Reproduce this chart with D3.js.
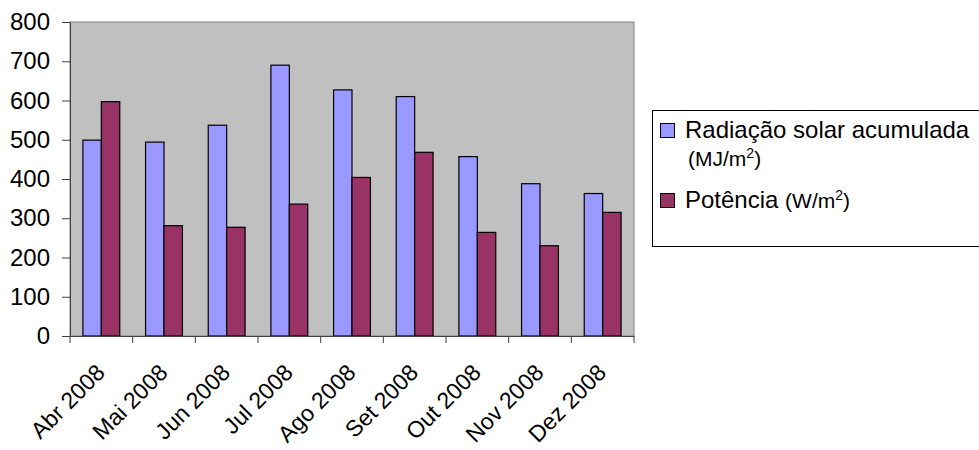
<!DOCTYPE html>
<html><head><meta charset="utf-8">
<script src="https://cdn.jsdelivr.net/npm/d3@7"></script>
<style>body{margin:0;background:#fff;}svg{display:block;font-family:"Liberation Sans",Arial,sans-serif;}</style>
</head><body><svg id="c" width="979" height="450"></svg>
<script>
const categories = ["Abr 2008","Mai 2008","Jun 2008","Jul 2008","Ago 2008","Set 2008","Out 2008","Nov 2008","Dez 2008"];
const radiacao = [499, 494, 537, 690, 627, 610, 457, 388, 363];
const potencia = [597, 281, 277, 336, 404, 468, 264, 230, 315];
const yTicks = [0,100,200,300,400,500,600,700,800];
const seriesNames = ["Radiação solar acumulada", "Potência"];
const seriesUnits = ["(MJ/m", "(W/m"];
const colors = ["#9999FF", "#993366"];

const svg = d3.select("#c");
const L = 70, R = 634, T = 22, B = 336;
const x = d3.scaleBand().domain(categories).range([L, R]).padding(0);
const y = d3.scaleLinear().domain([0, 800]).range([B, T]);
const bw = x.bandwidth() / 3.4;
const off = bw * 0.7;

svg.append("rect").attr("x", L).attr("y", T).attr("width", R - L).attr("height", B - T)
  .attr("fill", "#C0C0C0").attr("stroke", "#808080").attr("stroke-width", 1);

const series = [radiacao, potencia];
series.forEach((vals, si) => {
  svg.append("g").selectAll("rect").data(vals).join("rect")
    .attr("x", (d, i) => x(categories[i]) + off + si * bw)
    .attr("y", d => y(d))
    .attr("width", bw)
    .attr("height", d => B - y(d))
    .attr("fill", colors[si]).attr("stroke", "#000").attr("stroke-width", 1.2);
});

// y axis
const ya = svg.append("g").attr("transform", `translate(${L},0)`)
  .call(d3.axisLeft(y).tickValues(yTicks).tickSize(8).tickPadding(12));
ya.select(".domain").attr("stroke", "#404040");
ya.selectAll(".tick line").attr("stroke", "#404040");
ya.selectAll("text").attr("font-size", 24).attr("fill", "#000").attr("font-family", "Liberation Sans, Arial, sans-serif");

// x axis
const xa = svg.append("g").attr("transform", `translate(0,${B})`)
  .call(d3.axisBottom(x).tickSize(0).tickFormat(""));
xa.select(".domain").attr("stroke", "#404040");
const bounds = categories.map(c => x(c)).concat([R]);
svg.append("g").selectAll("line").data(bounds).join("line")
  .attr("x1", d => d).attr("x2", d => d).attr("y1", B).attr("y2", B + 7)
  .attr("stroke", "#404040");
svg.append("g").selectAll("text").data(categories).join("text")
  .attr("transform", d => `translate(${x(d) + x.bandwidth()/2 + 5},${B + 38}) rotate(-45)`)
  .attr("text-anchor", "end")
  .attr("font-size", 23).text(d => d);

// legend
const lg = svg.append("g");
lg.append("rect").attr("x", 652.5).attr("y", 110.5).attr("width", 340).attr("height", 136)
  .attr("fill", "#fff").attr("stroke", "#000").attr("stroke-width", 1);
const rows = [{sy: 123, ty: 138, uy: 166}, {sy: 193, ty: 208}];
seriesNames.forEach((n, i) => {
  lg.append("rect").attr("x", 660.5).attr("y", rows[i].sy + 0.5).attr("width", 14).attr("height", 14)
    .attr("fill", colors[i]).attr("stroke", "#000").attr("stroke-width", 1);
  if (i === 0) {
    lg.append("text").attr("x", 685).attr("y", rows[i].ty).attr("font-size", 24).text(n);
    const t = lg.append("text").attr("x", 688).attr("y", rows[i].uy).attr("font-size", 21);
    t.append("tspan").text(seriesUnits[i]);
    t.append("tspan").attr("font-size", 14).attr("dy", -8).text("2");
    t.append("tspan").attr("dy", 8).text(")");
  } else {
    const t = lg.append("text").attr("x", 685).attr("y", rows[i].ty).attr("font-size", 24);
    t.append("tspan").text(n + " ");
    t.append("tspan").attr("font-size", 21).text(seriesUnits[i]);
    t.append("tspan").attr("font-size", 14).attr("dy", -8).text("2");
    t.append("tspan").attr("font-size", 21).attr("dy", 8).text(")");
  }
});
</script></body></html>
